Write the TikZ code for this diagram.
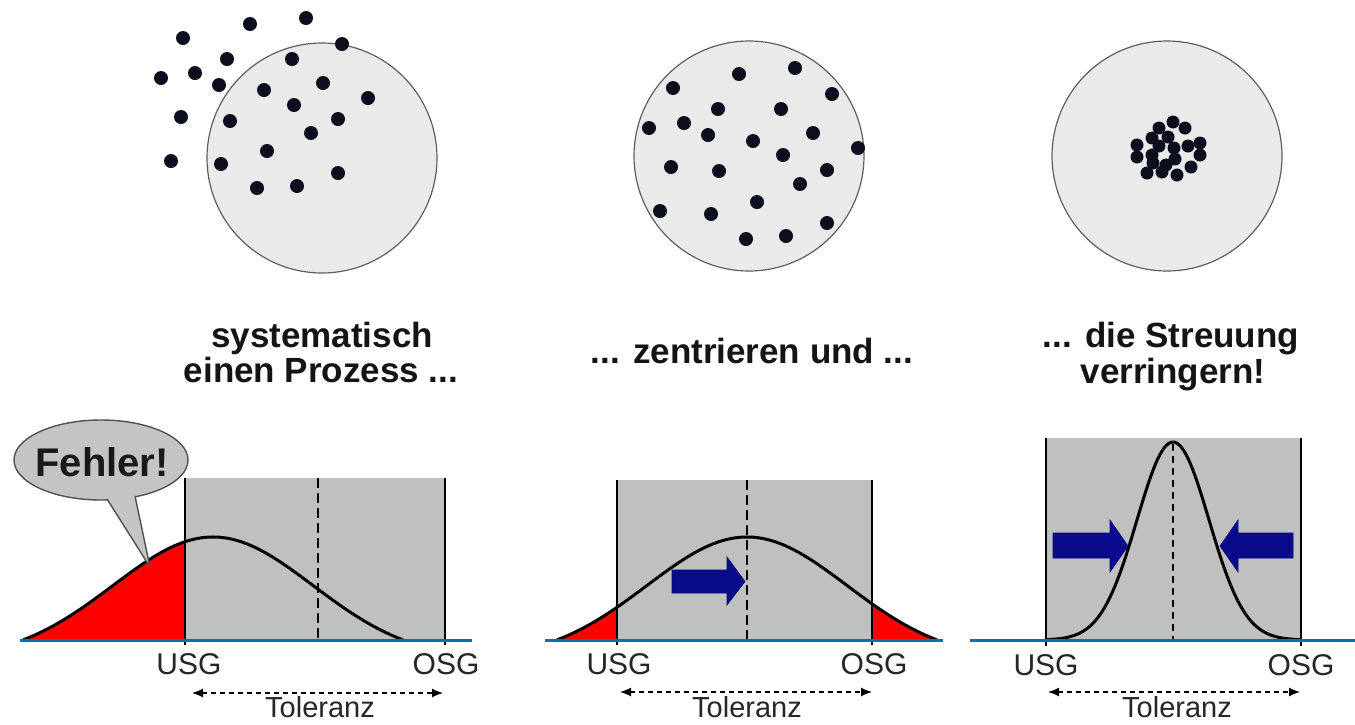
\documentclass[tikz,border=0pt]{standalone}
\usepackage{fontspec}
\setmainfont{Liberation Sans}
\usetikzlibrary{arrows.meta,shapes.geometric}
\definecolor{dotc}{RGB}{12,14,30}
\definecolor{circfill}{RGB}{234,234,234}
\definecolor{circline}{RGB}{95,95,95}
\definecolor{tolgray}{RGB}{192,192,192}
\definecolor{axisblue}{RGB}{0,112,192}
\definecolor{navyarrow}{RGB}{10,10,140}
\definecolor{errred}{RGB}{255,0,0}
\definecolor{callfill}{RGB}{196,196,196}
\definecolor{callline}{RGB}{80,80,80}
\begin{document}
\begin{tikzpicture}[x=1pt,y=-1pt,
  target/.style={fill=circfill,draw=circline,line width=1.2pt},
  toptext/.style={font=\fontsize{35}{36}\selectfont\bfseries,anchor=base,inner sep=0pt,text=black!92},
  limtext/.style={font=\fontsize{30}{36}\selectfont,anchor=base,inner sep=0pt,text=black!85},
  toltext/.style={font=\fontsize{29}{34}\selectfont,anchor=base,inner sep=0pt,text=black!85},
  tolarrow/.style={line width=1.2pt,dash pattern=on 5pt off 4pt,{Latex[length=11pt,width=9pt]}-{Latex[length=11pt,width=9pt]}},
  tolbox/.style={fill=tolgray},
  limline/.style={line width=2.2pt},
  curveline/.style={line width=3pt,line join=round,line cap=round},
  axisline/.style={draw=axisblue,line width=3pt},
  centerline/.style={line width=2.8pt,dash pattern=on 10pt off 5pt},
  bigarrow/.style={fill=navyarrow,draw=navyarrow!80!black,line width=0.6pt}]
\useasboundingbox (0,0) rectangle (1355,724);
\fill[white] (0,0) rectangle (1355,724);

% ---------- targets ----------
\fill[target] (322,158) circle[radius=115pt];
\foreach \px/\py in {183/38,250/24,306/18,342/44,227/59,292/59,161/78,195/73,219/85,264/90,323/83,368/98,294/105,181/117,230/121,338/119,311/133,267/151,171/161,221/164,338/173,257/188,297/186}
  \fill[dotc] (\px,\py) circle[radius=7pt];

\fill[target] (749,156) circle[radius=115pt];
\foreach \px/\py in {739/74,795/68,673/88,832/94,718/109,781/109,649/128,684/123,708/135,753/141,813/133,858/148,783/155,671/167,719/171,827/170,800/184,757/202,660/211,711/214,827/223,746/239,786/236}
  \fill[dotc] (\px,\py) circle[radius=7pt];

\fill[target] (1167,156) circle[radius=115pt];
\foreach \px/\py in {1173/122,1185/128,1159/128,1152/138,1168/137,1137/145,1174/148,1188/146,1200/143,1137/157,1152/155,1200/155,1175/159,1166/165,1147/173,1162/172,1177/175,1191/167,1153/163,1159/146}
  \fill[dotc] (\px,\py) circle[radius=6.5pt];

% ---------- captions ----------
\node[toptext] (c1a) at (322,347) {systematisch};
\node[toptext] (c1b) at (321,382) {einen Prozess ...};
\node[toptext] (c2) at (752,363) {... zentrieren und ...};
\node[toptext] (c3a) at (1171,347) {... die Streuung};
\node[toptext] (c3b) at (1173,383) {verringern!};

% ---------- panel 1 ----------
\fill[tolbox] (185,478) rectangle (445,640);
\begin{scope}
  \clip (0,400) rectangle (185,640);
  \fill[errred] plot[smooth,samples=60,domain=-1.9:1.9,variable=\t] ({213+100*\t},{660.2-123.2*exp(-\t*\t/2)}) -- cycle;
\end{scope}
\draw[curveline] plot[smooth,samples=60,domain=-1.9:1.9,variable=\t] ({213+100*\t},{660.2-123.2*exp(-\t*\t/2)});
\draw[limline] (185,478) -- (185,645);
\draw[limline] (445,478) -- (445,645);
\draw[centerline] (318,478) -- (318,640);
\draw[axisline] (20,640) -- (472,640);
\node[limtext] (usg1) at (189,674) {USG};
\node[limtext] (osg1) at (446,674) {OSG};
\coordinate (t1l) at (192,693);
\coordinate (t1r) at (443,693);
\draw[tolarrow] (t1l) -- (t1r);
\node[toltext] (tol1) at (320,717) {Toleranz};

% callout
\node[ellipse,fill=callfill,draw=callline,line width=1.4pt,minimum width=174pt,minimum height=80pt,inner sep=0pt] (fehlerbubble) at (101,460) {};
\fill[callfill] (101.6,490.4) -- (150,567) -- (132.9,486.2) -- cycle;
\draw[callline,line width=1.4pt,line join=round] (107,499) -- (150,567) -- (135,496);
\node[font=\fontsize{40}{48}\selectfont\bfseries,anchor=base,inner sep=0pt,text=black!90] (fehler) at (102,476) {Fehler!};

% ---------- panel 2 ----------
\fill[tolbox] (617,480) rectangle (872,640);
\begin{scope}
  \clip (540,400) rectangle (617,640);
  \fill[errred] plot[smooth,samples=60,domain=-1.9:1.9,variable=\t] ({747+100*\t},{660.2-123.2*exp(-\t*\t/2)}) -- cycle;
\end{scope}
\begin{scope}
  \clip (872,400) rectangle (950,640);
  \fill[errred] plot[smooth,samples=60,domain=-1.9:1.9,variable=\t] ({747+100*\t},{660.2-123.2*exp(-\t*\t/2)}) -- cycle;
\end{scope}
\draw[curveline] plot[smooth,samples=60,domain=-1.9:1.9,variable=\t] ({747+100*\t},{660.2-123.2*exp(-\t*\t/2)});
\draw[limline,line width=1.6pt] (617,480) -- (617,645);
\draw[limline,line width=1.6pt] (872,480) -- (872,645);
\draw[centerline] (747,480) -- (747,640);
\draw[axisline] (545,640) -- (943,640);
\draw[bigarrow] (672,570) -- (727,570) -- (727,557) -- (745,581.5) -- (727,605) -- (727,593) -- (672,593) -- cycle;
\node[limtext] (usg2) at (619,674) {USG};
\node[limtext] (osg2) at (874,674) {OSG};
\coordinate (t2l) at (620,692);
\coordinate (t2r) at (872,692);
\draw[tolarrow] (t2l) -- (t2r);
\node[toltext] (tol2) at (747,717) {Toleranz};

% ---------- panel 3 ----------
\fill[tolbox] (1046,438) rectangle (1301,640);
\draw[curveline] plot[smooth,samples=90,domain=-3.55:3.55,variable=\t] ({1173+36*\t},{640-198*exp(-\t*\t/2)});
\draw[limline] (1046,438) -- (1046,646);
\draw[limline] (1301,438) -- (1301,646);
\draw[line width=2pt,dash pattern=on 7pt off 5pt] (1173,444) -- (1173,640);
\draw[axisline] (970,640) -- (1355,640);
\draw[bigarrow] (1053,533) -- (1110,533) -- (1110,520) -- (1128,546) -- (1110,572) -- (1110,558) -- (1053,558) -- cycle;
\draw[bigarrow] (1293,533) -- (1238,533) -- (1238,520) -- (1220,546) -- (1238,572) -- (1238,558) -- (1293,558) -- cycle;
\node[limtext] (usg3) at (1046,675) {USG};
\node[limtext] (osg3) at (1301,675) {OSG};
\coordinate (t3l) at (1048,692);
\coordinate (t3r) at (1300,692);
\draw[tolarrow] (t3l) -- (t3r);
\node[toltext] (tol3) at (1177,717) {Toleranz};
\end{tikzpicture}
\end{document}
